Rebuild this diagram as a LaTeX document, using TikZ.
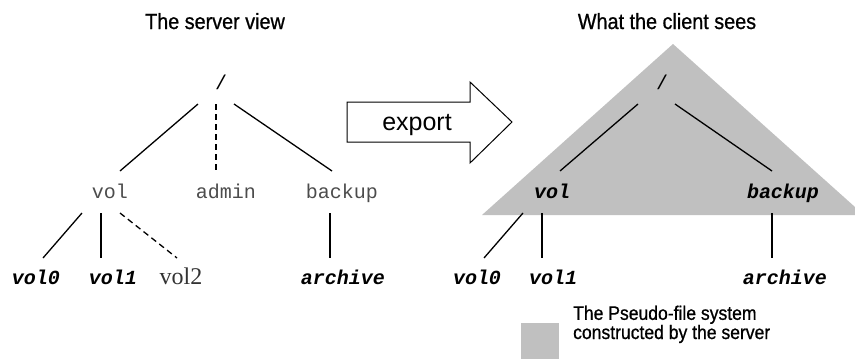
\documentclass[tikz,border=0pt]{standalone}
\usepackage{fontspec}
\setmainfont{Liberation Sans}
\newfontfamily\narrowfont[FakeStretch=0.9,FakeBold=0.8]{Liberation Sans}
\newfontfamily\dirfont{Liberation Mono}
\newfontfamily\volfont{Liberation Serif}
\definecolor{pseudogray}{RGB}{192,192,192}
\tikzset{
	heading/.style={font=\narrowfont\fontsize{22}{24}\selectfont, anchor=base},
	dir/.style={font=\dirfont\fontsize{20}{22}\selectfont, text=black!70, inner sep=0pt, anchor=base},
	pdir/.style={font=\dirfont\bfseries\itshape\fontsize{20}{22}\selectfont, inner sep=0pt, anchor=base},
	edge/.style={line width=1.3pt},
	hidden/.style={edge, dash pattern=on 6pt off 4pt},
}
\begin{document}
\begin{tikzpicture}[x=1pt,y=-1pt]
	\useasboundingbox (0,0) rectangle (855,359);

	% pseudo-file system and legend
	\fill[pseudogray] (673,44) -- (855,207) -- (855,215) -- (482,215) -- cycle;
	\fill[pseudogray] (521,323) rectangle (559,359);
	\node 	(legend)	at	(573,339) 	[anchor=base west, inner sep=0pt, align=left, font=\narrowfont\fontsize{19.5}{18}\selectfont]{The Pseudo-file system\\constructed by the server};

	% headings
	\node 	(shead)		at	(215,29) 	[heading]{The server view};
	\node 	(chead)		at	(667,29) 	[heading]{What the client sees};

	% export arrow
	\draw[line width=1pt, line join=miter] (347,102) -- (470,102) -- (470,82) -- (512,122) -- (470,163) -- (470,142) -- (347,142) -- cycle;
	\node 	(export)	at	(417,130) 	[anchor=base, inner sep=0pt, font=\fontsize{25}{27}\selectfont]{export};

	% server view
	\node 	(sroot)		at	(221,82) 	[dir, anchor=center, text=black]{/};
	\node 	(svol)		at	(110,198) 	[dir]{vol};
	\node 	(sadmin)	at	(226,198) 	[dir]{admin};
	\node 	(sbackup)	at	(342,198) 	[dir]{backup};
	\node 	(svol0)		at	(36,284) 	[pdir]{vol0};
	\node 	(svol1)		at	(113,284) 	[pdir]{vol1};
	\node 	(svol2)		at	(181,284) 	[anchor=base, inner sep=0pt, font=\volfont\fontsize{24}{26}\selectfont, text=black!80]{vol2};
	\node 	(sarchive)	at	(343,284) 	[pdir]{archive};

	\draw[edge] ([xshift=-23pt,yshift=-22pt]sroot.center) -- ([xshift=10pt,yshift=27pt]svol.base);
	\draw[hidden] ([xshift=-5pt,yshift=-22pt]sroot.center) -- ([xshift=-10pt,yshift=27pt]sadmin.base);
	\draw[edge] ([xshift=13pt,yshift=-22pt]sroot.center) -- ([xshift=-10pt,yshift=27pt]sbackup.base);
	\draw[edge] ([xshift=-28pt,yshift=-15pt]svol.base) -- ([xshift=7pt,yshift=26pt]svol0.base);
	\draw[edge] ([xshift=-9pt,yshift=-15pt]svol.base) -- ([xshift=-12pt,yshift=26pt]svol1.base);
	\draw[hidden] ([xshift=10pt,yshift=-15pt]svol.base) -- ([xshift=-4pt,yshift=26pt]svol2.base);
	\draw[edge] ([xshift=-12pt,yshift=-15pt]sbackup.base) -- ([xshift=-13pt,yshift=26pt]sarchive.base);

	% client view
	\node 	(croot)		at	(662,82) 	[dir, anchor=center, text=black]{/};
	\node 	(cvol)		at	(552,198) 	[pdir]{vol};
	\node 	(cbackup)	at	(783,198) 	[pdir]{backup};
	\node 	(cvol0)		at	(477,284) 	[pdir]{vol0};
	\node 	(cvol1)		at	(553,284) 	[pdir]{vol1};
	\node 	(carchive)	at	(785,284) 	[pdir]{archive};

	\draw[edge] ([xshift=-24pt,yshift=-22pt]croot.center) -- ([xshift=8pt,yshift=27pt]cvol.base);
	\draw[edge] ([xshift=13pt,yshift=-22pt]croot.center) -- ([xshift=-11pt,yshift=27pt]cbackup.base);
	\draw[edge] ([xshift=-29pt,yshift=-15pt]cvol.base) -- ([xshift=7pt,yshift=26pt]cvol0.base);
	\draw[edge] ([xshift=-10pt,yshift=-15pt]cvol.base) -- ([xshift=-11pt,yshift=26pt]cvol1.base);
	\draw[edge] ([xshift=-11pt,yshift=-15pt]cbackup.base) -- ([xshift=-13pt,yshift=26pt]carchive.base);
\end{tikzpicture}
\end{document}
